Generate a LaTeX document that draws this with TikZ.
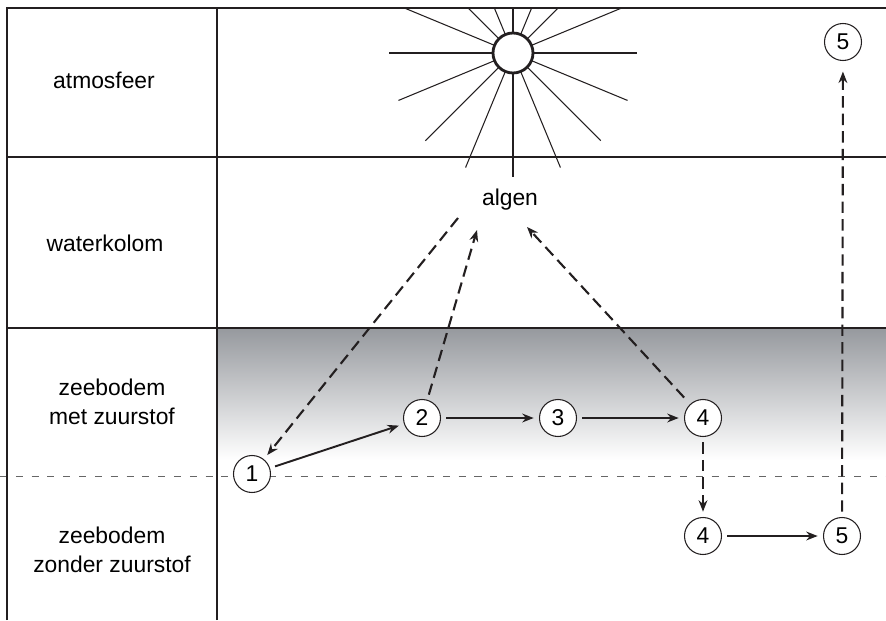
\documentclass[tikz,border=0pt]{standalone}
\usepackage{fontspec}
\setmainfont{Liberation Sans}
\usetikzlibrary{arrows.meta}
\definecolor{ink}{RGB}{35,31,32}
\definecolor{sedgray}{RGB}{150,153,158}
\tikzset{
  layer/.style={ink,line width=0.9pt},
  lbl/.style={align=center,font=\fontsize{13}{16.5}\selectfont},
  num/.style={draw=ink,line width=0.6pt,shape=circle,fill=white,minimum size=0.74cm,inner sep=0pt,font=\fontsize{13}{15}\selectfont},
  flow/.style={ink,line width=1.1pt,-{Stealth[length=6.5pt,width=5pt]},shorten >=3pt,shorten <=3pt},
  flux/.style={flow,line width=1.2pt,dash pattern=on 6.5pt off 3.5pt}
}
\begin{document}
\begin{tikzpicture}
   \clip (0,0) rectangle (17.72,12.4);
   \shade[top color=sedgray,bottom color=white] (4.34,5.84) rectangle (17.72,3.2);
   \draw[gray!80!black,line width=0.5pt,dash pattern=on 4pt off 5pt] (0,2.88) -- (17.72,2.88);

   \begin{scope}
   \clip (4.34,0) rectangle (17.72,12.24);
   \foreach \a in {0,22.5,...,337.5}
     \draw[ink,line width=0.6pt] (10.26,11.34) -- ++(\a:2.48);
   \end{scope}
   \path (10.26,11.34) node[draw=ink,line width=1.6pt,shape=circle,fill=white,minimum size=0.8cm] (sun) {};

   \draw[layer] (0.14,0) -- (0.14,12.24) -- (17.72,12.24);
   \draw[layer] (4.34,0) -- (4.34,12.24);
   \draw[layer] (0.14,9.26) -- (17.72,9.26);
   \draw[layer] (0.14,5.84) -- (17.72,5.84);

   \path (2.08,10.80) node[lbl] (atm) {atmosfeer};
   \path (2.10,7.54) node[lbl] (wat) {waterkolom};
   \path (2.24,4.36) node[lbl] (zmet) {zeebodem\\met zuurstof};
   \path (2.24,1.40) node[lbl] (zzon) {zeebodem\\zonder zuurstof};

   \path (10.2,8.4) node[lbl] (algen) {algen};
   \path (9.16,8.04) coordinate (a1);
   \path (9.54,7.80) coordinate (a2);
   \path (10.54,7.86) coordinate (a4);

   \path (5.04,2.92) node[num] (n1) {1};
   \path (8.44,4.04) node[num] (n2) {2};
   \path (11.16,4.04) node[num] (n3) {3};
   \path (14.06,4.04) node[num] (n4) {4};
   \path (14.06,1.68) node[num] (n4b) {4};
   \path (16.84,1.68) node[num] (n5b) {5};
   \path (16.86,11.56) node[num] (n5t) {5};

   \draw[flux,shorten <=0pt] (a1) -- (n1);
   \draw[flux,shorten >=0pt] (n2) -- (a2);
   \draw[flux,shorten >=0pt,shorten <=5pt] (n4) -- (a4);
   \draw[flow] (n1) -- (n2);
   \draw[flow] (n2) -- (n3);
   \draw[flow] (n3) -- (n4);
   \draw[flux] (n4) -- (n4b);
   \draw[flow] (n4b) -- (n5b);
   \draw[flux,shorten >=6pt] (n5b) -- (n5t);
\end{tikzpicture}
\end{document}
